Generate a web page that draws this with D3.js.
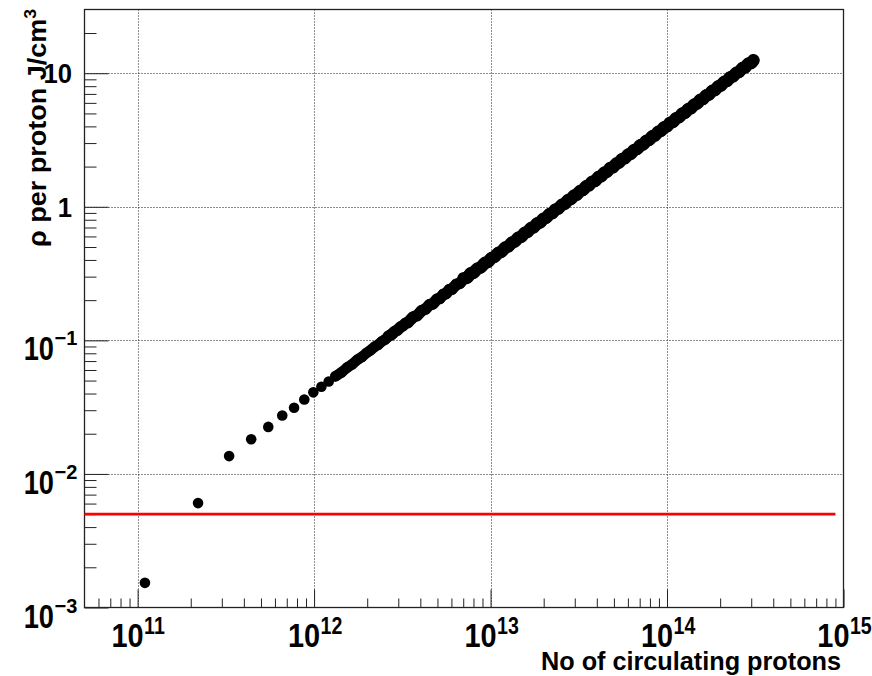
<!DOCTYPE html>
<html>
<head>
<meta charset="utf-8">
<script src="https://cdn.jsdelivr.net/npm/d3@7"></script>
<style>
  body { margin: 0; background: #fff; }
  svg { display: block; }
  text { font-family: "Liberation Sans", Arial, Helvetica, sans-serif; font-weight: bold; fill: #000; }
</style>
</head>
<body>
<svg id="chart" width="872" height="676"></svg>
<script>
// Number of circulating protons, in units of 1e11
const protonsE11 = [
  1.1, 2.2, 3.3, 4.4, 5.5, 6.6, 7.7, 8.8, 9.9, 11,
  12.1, 13.2, 14.3, 15.4, 16.5, 17.6, 18.7, 19.8, 20.9, 22,
  23.1, 24.2, 25.3, 26.4, 27.5, 28.6, 29.7, 30.8, 31.9, 33,
  34.1, 36.3, 38.5, 40.7, 42.9, 45.1, 47.3, 49.5, 51.7, 53.9,
  56.1, 58.3, 60.5, 63.8, 67.1, 70.4, 73.7, 77, 80.3, 83.6,
  88, 92.4, 96.8, 101.2, 105.6, 110, 115.5, 121, 126.5, 132,
  137.5, 143, 149.6, 156.2, 162.8, 169.4, 176, 183.7, 191.4, 199.1,
  206.8, 215.6, 224.4, 233.2, 243.1, 253, 264, 275, 286, 297,
  309.1, 321.2, 334.4, 347.6, 361.9, 376.2, 391.6, 407, 423.5, 440,
  457.6, 476.3, 495, 514.8, 535.7, 556.6, 578.6, 601.7, 625.9, 651.2,
  677.6, 704, 732.6, 762.3, 792, 823.9, 856.9, 891, 926.2, 963.6,
  1002.1, 1041.7, 1083.5, 1126.4, 1171.5, 1218.8, 1267.2, 1317.8, 1370.6, 1425.6,
  1482.8, 1542.2, 1603.8, 1667.6, 1734.7, 1804, 1875.5, 1950.3, 2028.4, 2109.8,
  2194.5, 2282.5, 2373.8, 2468.4, 2567.4, 2669.7, 2776.4, 2887.5, 3003, 3088.8
];
// rho per proton, J/cm^3
const rhoPerProton = [
  0.00153, 0.00605, 0.0136, 0.0182, 0.0225, 0.0274, 0.0313, 0.0361, 0.0408, 0.0450,
  0.0492, 0.0538, 0.0575, 0.0628, 0.0662, 0.0718, 0.0752, 0.0806, 0.0842, 0.0897,
  0.0928, 0.0985, 0.1015, 0.1078, 0.1102, 0.1170, 0.1192, 0.1262, 0.1281, 0.1352,
  0.135, 0.151, 0.152, 0.169, 0.170, 0.187, 0.186, 0.205, 0.204, 0.223,
  0.222, 0.242, 0.239, 0.265, 0.265, 0.292, 0.291, 0.320, 0.317, 0.347,
  0.347, 0.383, 0.382, 0.419, 0.417, 0.456, 0.456, 0.502, 0.500, 0.547,
  0.543, 0.593, 0.590, 0.648, 0.643, 0.702, 0.695, 0.762, 0.755, 0.825,
  0.817, 0.894, 0.886, 0.967, 0.959, 1.05, 1.04, 1.14, 1.13, 1.23,
  1.22, 1.33, 1.32, 1.44, 1.43, 1.56, 1.54, 1.69, 1.67, 1.82,
  1.81, 1.98, 1.95, 2.13, 2.12, 2.31, 2.28, 2.49, 2.47, 2.70,
  2.67, 2.92, 2.89, 3.16, 3.12, 3.41, 3.38, 3.69, 3.66, 4.00,
  3.95, 4.32, 4.27, 4.67, 4.62, 5.05, 5.00, 5.46, 5.40, 5.91,
  5.85, 6.40, 6.33, 6.92, 6.85, 7.48, 7.40, 8.09, 8.00, 8.75,
  8.66, 9.46, 9.36, 10.2, 10.1, 11.1, 10.9, 12.0, 11.8, 12.5
];
// Red threshold line
const thresholdRho = 5e-3;
const thresholdFrom = 5e10;
const thresholdTo = 9e14;

// Axes
const xDomain = [5e10, 1e15];
const yDomain = [1e-3, 30];
const xMajorTicks = [1e11, 1e12, 1e13, 1e14, 1e15];
const xTickExponents = ["11", "12", "13", "14", "15"];
const yMajorTicks = [1e-3, 1e-2, 1e-1, 1, 10];
const yTickBase = ["10", "10", "10", "1", "10"];
const yTickExponents = ["\u22123", "\u22122", "\u22121", "", ""];
const xGrid = [1e11, 1e12, 1e13, 1e14];
const yGrid = [1e-2, 1e-1, 1, 10];
const xTitle = "No of circulating protons";
const yTitleMain = "\u03C1 per proton J/cm";
const yTitleSup = "3";

const svg = d3.select("#chart");
const L = 84.5, R = 843.5, T = 9.5, B = 607.5;
const x = d3.scaleLog().domain(xDomain).range([L, R]);
const y = d3.scaleLog().domain(yDomain).range([B, T]);

function minorTicks(domain) {
  const out = [];
  const lo = Math.floor(Math.log10(domain[0])), hi = Math.ceil(Math.log10(domain[1]));
  for (let e = lo; e < hi; e++) {
    for (let m = 2; m <= 9; m++) {
      const v = m * Math.pow(10, e);
      if (v > domain[0] * 1.0001 && v < domain[1] * 0.9999) out.push(v);
    }
  }
  return out;
}

// Grid lines
const grid = svg.append("g").attr("stroke", "#1a1a1a").attr("stroke-width", 1).attr("stroke-dasharray", "1,2");
xGrid.forEach(v => {
  const px = Math.round(x(v)) + 0.5;
  grid.append("line").attr("x1", px).attr("x2", px).attr("y1", T).attr("y2", B);
});
yGrid.forEach(v => {
  const py = Math.round(y(v)) + 0.5;
  grid.append("line").attr("x1", L).attr("x2", R).attr("y1", py).attr("y2", py);
});

// Axes ticks (inward)
function styleAxis(g) {
  g.select(".domain").remove();
  g.selectAll("line").attr("stroke", "#222").attr("stroke-width", 1);
  g.selectAll("text").remove();
}
svg.append("g").attr("transform", `translate(0,${B})`)
  .call(d3.axisBottom(x).tickValues(xMajorTicks).tickSize(-18).tickFormat("")).call(styleAxis);
svg.append("g").attr("transform", `translate(0,${B})`)
  .call(d3.axisBottom(x).tickValues(minorTicks(xDomain)).tickSize(-9).tickFormat("")).call(styleAxis);
svg.append("g").attr("transform", `translate(${L},0)`)
  .call(d3.axisLeft(y).tickValues(yMajorTicks).tickSize(-24).tickFormat("")).call(styleAxis);
svg.append("g").attr("transform", `translate(${L},0)`)
  .call(d3.axisLeft(y).tickValues(minorTicks(yDomain)).tickSize(-12).tickFormat("")).call(styleAxis);

// Frame
svg.append("rect").attr("x", L).attr("y", T).attr("width", R - L).attr("height", B - T)
  .attr("fill", "none").attr("stroke", "#222").attr("stroke-width", 1.3);

// Threshold line
svg.append("line")
  .attr("x1", x(thresholdFrom)).attr("x2", x(thresholdTo))
  .attr("y1", y(thresholdRho)).attr("y2", y(thresholdRho))
  .attr("stroke", "#ff0000").attr("stroke-width", 2.6);

// Markers
const n = Math.min(protonsE11.length, rhoPerProton.length);
const pts = d3.range(n).map(i => ({ p: protonsE11[i] * 1e11, r: rhoPerProton[i] }));
// Where markers overlap densely they merge into a solid band
const bandLine = d3.line().x(d => x(d.p)).y(d => y(d.r)).curve(d3.curveBasis);
const bandParts = [
  { from: 1.3e12, to: 3.0e12, width: 10.6 },
  { from: 2.6e12, to: 8.0e12, width: 11.6 },
  { from: 7.0e12, to: 4e15, width: 12.6 }
];
bandParts.forEach(b => {
  svg.append("path").datum(pts.filter(d => d.p >= b.from && d.p <= b.to))
    .attr("d", bandLine)
    .attr("fill", "none").attr("stroke", "#000").attr("stroke-width", b.width)
    .attr("stroke-linecap", "round").attr("stroke-linejoin", "round");
});
svg.append("g").selectAll("circle").data(pts).join("circle")
  .attr("cx", d => x(d.p)).attr("cy", d => y(d.r)).attr("r", 5.3).attr("fill", "#000");

// X tick labels
xMajorTicks.forEach((v, i) => {
  const px = x(v);
  svg.append("text").attr("transform", `translate(${px + 6},647) scale(0.85,1)`)
    .attr("text-anchor", "end").attr("font-size", 34).text("10");
  svg.append("text").attr("transform", `translate(${px + 6.5},634) scale(0.85,1)`)
    .attr("text-anchor", "start").attr("font-size", 23).text(xTickExponents[i]);
});

// Y tick labels
yMajorTicks.forEach((v, i) => {
  const py = y(v);
  if (yTickExponents[i] === "") {
    svg.append("text").attr("transform", `translate(72,${py + 10}) scale(0.95,1)`)
      .attr("text-anchor", "end").attr("font-size", 27).text(yTickBase[i]);
  } else {
    svg.append("text").attr("transform", `translate(54,${py + 20}) scale(0.8,1)`)
      .attr("text-anchor", "end").attr("font-size", 34).text(yTickBase[i]);
    svg.append("text").attr("transform", `translate(54.5,${py + 5})`)
      .attr("text-anchor", "start").attr("font-size", 20).text(yTickExponents[i]);
  }
});

// Axis titles
svg.append("text").attr("x", 841).attr("y", 670).attr("text-anchor", "end")
  .attr("font-size", 25).attr("textLength", 300).attr("lengthAdjust", "spacingAndGlyphs")
  .text(xTitle);

const yt = svg.append("text").attr("transform", "translate(46,9) rotate(-90)")
  .attr("text-anchor", "end").attr("font-size", 26)
  .attr("textLength", 238).attr("lengthAdjust", "spacingAndGlyphs");
yt.append("tspan").text(yTitleMain);
yt.append("tspan").attr("font-size", 17).attr("dy", -10).text(yTitleSup);
</script>
</body>
</html>
